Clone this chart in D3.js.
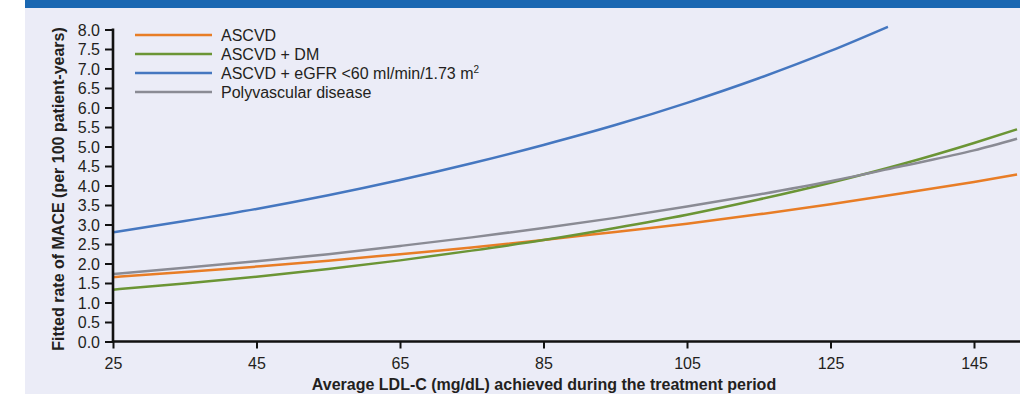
<!DOCTYPE html>
<html>
<head>
<meta charset="utf-8">
<script src="https://cdn.jsdelivr.net/npm/d3@7"></script>
<style>
  html, body { margin: 0; padding: 0; background: #ffffff; }
  svg { display: block; }
  text { font-family: "Liberation Sans", Arial, Helvetica, sans-serif; fill: #231f20; }
</style>
</head>
<body>
<svg id="chart" width="1020" height="394"></svg>
<script>
// ---- Data ----
const seriesNames = ["ASCVD", "ASCVD + DM", "ASCVD + eGFR <60 ml/min/1.73 m²", "Polyvascular disease"];
const ldlAscvd   = [25, 35, 45, 55, 65, 75, 85, 95, 105, 115, 125, 135, 145, 151];
const rateAscvd  = [1.65, 1.78, 1.92, 2.07, 2.24, 2.41, 2.60, 2.81, 3.02, 3.26, 3.52, 3.80, 4.09, 4.28];
const ldlDm      = [25, 35, 45, 55, 65, 75, 85, 95, 105, 115, 125, 135, 145, 151];
const rateDm     = [1.33, 1.49, 1.66, 1.86, 2.08, 2.33, 2.60, 2.91, 3.25, 3.64, 4.07, 4.55, 5.09, 5.44];
const ldlEgfr    = [25, 35, 45, 55, 65, 75, 85, 95, 105, 115, 125, 133];
const rateEgfr   = [2.80, 3.09, 3.40, 3.75, 4.14, 4.57, 5.04, 5.55, 6.12, 6.75, 7.45, 8.07];
const ldlPoly    = [25, 35, 45, 55, 65, 75, 85, 95, 105, 115, 125, 135, 145, 151];
const ratePoly   = [1.73, 1.89, 2.06, 2.24, 2.45, 2.67, 2.91, 3.17, 3.46, 3.77, 4.11, 4.50, 4.90, 5.20];
const xTicks = [25, 45, 65, 85, 105, 125, 145];
const yTicks = [0, 0.5, 1, 1.5, 2, 2.5, 3, 3.5, 4, 4.5, 5, 5.5, 6, 6.5, 7, 7.5, 8];
const colors = ["#e87d26", "#6b9535", "#4577c0", "#8a8b94"];
const xLabel = "Average LDL-C (mg/dL) achieved during the treatment period";
const yLabel = "Fitted rate of MACE (per 100 patient-years)";

const series = [
  {name: seriesNames[0], xs: ldlAscvd, ys: rateAscvd, color: colors[0]},
  {name: seriesNames[1], xs: ldlDm, ys: rateDm, color: colors[1]},
  {name: seriesNames[2], xs: ldlEgfr, ys: rateEgfr, color: colors[2]},
  {name: seriesNames[3], xs: ldlPoly, ys: ratePoly, color: colors[3]}
];

// ---- Layout ----
const svg = d3.select("#chart");
const W = 1020, H = 394;

svg.append("rect").attr("x", 25).attr("y", 0).attr("width", W - 25).attr("height", H).attr("fill", "#ebecf7");
svg.append("rect").attr("x", 25).attr("y", 0).attr("width", W - 25).attr("height", 8).attr("fill", "#1a67b2");

const x0 = 113, yBase = 341.5, yTop = 29.5;
const x = d3.scaleLinear().domain([25, 145]).range([x0, 974]);
const y = d3.scaleLinear().domain([0, 8]).range([yBase, yTop]);
const xEnd = W + 2;

svg.append("clipPath").attr("id", "clip").append("rect")
  .attr("x", x0).attr("y", 0).attr("width", W - x0).attr("height", yBase);

const line = d3.line().x(d => x(d[0])).y(d => y(d[1])).curve(d3.curveMonotoneX);

const gLines = svg.append("g").attr("clip-path", "url(#clip)");
series.forEach(s => {
  gLines.append("path")
    .datum(s.xs.map((v, i) => [v, s.ys[i]]))
    .attr("d", line)
    .attr("fill", "none")
    .attr("stroke", s.color)
    .attr("stroke-width", 2.5);
});

// Y axis
const yAxis = d3.axisLeft(y).tickValues(yTicks).tickFormat(d3.format(".1f")).tickSize(8).tickSizeOuter(0);
const gy = svg.append("g").attr("transform", `translate(${x0},0)`).call(yAxis);
gy.select(".domain").attr("stroke", "#111").attr("stroke-width", 2.6).attr("d", `M0,${yBase}V${yTop - 1}`);
gy.selectAll(".tick line").attr("stroke", "#111").attr("stroke-width", 2);
gy.selectAll(".tick text").attr("font-size", 16).attr("x", -13).attr("dy", "0.36em")
  .style("font-family", "'Liberation Sans', Arial, sans-serif").attr("fill", "#231f20");

// X axis
const xAxis = d3.axisBottom(x).tickValues(xTicks).tickFormat(d3.format("d")).tickSize(7).tickSizeOuter(0);
const gx = svg.append("g").attr("transform", `translate(0,${yBase})`).call(xAxis);
gx.select(".domain").attr("stroke", "#111").attr("stroke-width", 2.6).attr("d", `M${x0 - 1},0H${xEnd}`);
gx.selectAll(".tick line").attr("stroke", "#111").attr("stroke-width", 2);
gx.selectAll(".tick text").attr("font-size", 16).attr("y", 27).attr("dy", 0)
  .style("font-family", "'Liberation Sans', Arial, sans-serif")
  .attr("fill", "#231f20");

// Axis titles
svg.append("text")
  .attr("x", 544).attr("y", 390)
  .attr("text-anchor", "middle")
  .attr("font-size", 16).attr("font-weight", "bold")
  .text(xLabel);

svg.append("text")
  .attr("transform", `translate(64,189) rotate(-90)`)
  .attr("text-anchor", "middle")
  .attr("font-size", 16).attr("font-weight", "bold")
  .text(yLabel);

// Legend
const legY = [35, 54, 73, 92];
const leg = svg.append("g");
series.forEach((s, i) => {
  leg.append("line").attr("x1", 135).attr("x2", 212).attr("y1", legY[i]).attr("y2", legY[i])
    .attr("stroke", s.color).attr("stroke-width", 2.6);
  const t = leg.append("text").attr("x", 221).attr("y", legY[i]).attr("dy", "0.36em").attr("font-size", 16);
  if (s.name.endsWith("²")) {
    t.append("tspan").text(s.name.slice(0, -1));
    t.append("tspan").attr("font-size", 10).attr("dy", "-0.6em").text("2");
  } else {
    t.text(s.name);
  }
});
</script>
</body>
</html>
